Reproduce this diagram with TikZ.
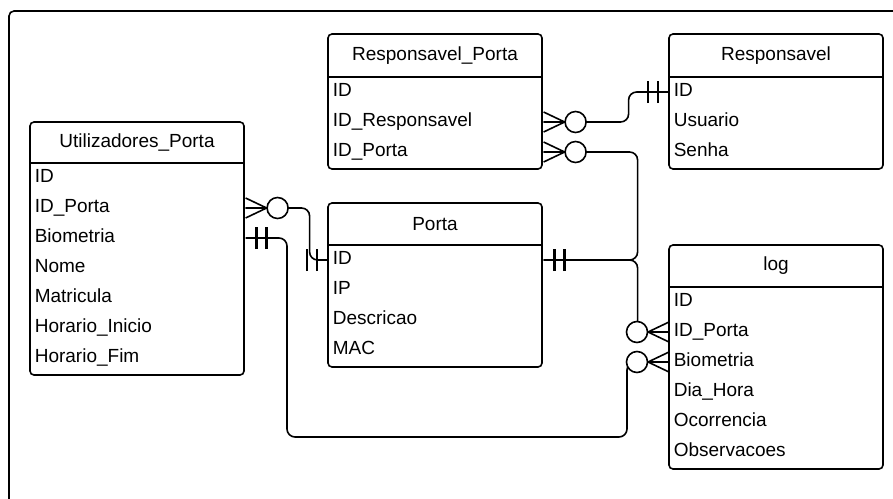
\documentclass[tikz,border=0pt]{standalone}
\usepackage{fontspec}
\setmainfont{Liberation Sans}
\usepackage{tikz}

\tikzset{
  tabela/.style={rounded corners=4pt},
  titulo/.style={inner sep=0pt},
  campo/.style={anchor=west,text width=206pt,align=left,inner xsep=4pt,inner ysep=0pt,
    minimum height=30pt,text height=13pt,text depth=4pt},
  liga/.style={rounded corners=8pt},
  % zero ou muitos: pe de galinha e circulo
  muitos/.pic={
    \draw (0,10) -- (21,0) -- (0,-10) (0,0) -- (21,0);
    \draw[fill=white] (32,0) circle[radius=10.5];
  },
  % um e apenas um: dois tracos
  um/.pic={
    \draw[line width=2.4pt] (11,11) -- (11,-11) (21,11) -- (21,-11);
  }
}

\begin{document}
\begin{tikzpicture}[x=1pt,y=-1pt,line width=1.6pt,font=\fontsize{19}{22}\selectfont]
\useasboundingbox (0,0) rectangle (893,498);
\draw[rounded corners=5pt] (9,11) rectangle (910,520);

% Responsavel_Porta
\draw[tabela] (328,34) rectangle (542,169);
\node[titulo] (respporta) at (435,55.5) {Responsavel\_Porta};
\draw (328,77) -- (542,77);
\foreach \campo [count=\i] in {ID,ID\_Responsavel,ID\_Porta}
  \node[campo] (respporta-\i) at (328,62+30*\i) {\campo};

% Responsavel
\draw[tabela] (669,34) rectangle (883,169);
\node[titulo] (resp) at (776,55.5) {Responsavel};
\draw (669,77) -- (883,77);
\foreach \campo [count=\i] in {ID,Usuario,Senha}
  \node[campo] (resp-\i) at (669,62+30*\i) {\campo};

% Utilizadores_Porta
\draw[tabela] (30,122) rectangle (244,375);
\node[titulo] (util) at (137,142.5) {Utilizadores\_Porta};
\draw (30,163) -- (244,163);
\foreach \campo [count=\i] in {ID,ID\_Porta,Biometria,Nome,Matricula,Horario\_Inicio,Horario\_Fim}
  \node[campo] (util-\i) at (30,148+30*\i) {\campo};

% Porta
\draw[tabela] (328,203) rectangle (542,367);
\node[titulo] (porta) at (435,224) {Porta};
\draw (328,245) -- (542,245);
\foreach \campo [count=\i] in {ID,IP,Descricao,MAC}
  \node[campo] (porta-\i) at (328,230+30*\i) {\campo};

% log
\draw[tabela] (669,245) rectangle (883,469);
\node[titulo] (log) at (776,266) {log};
\draw (669,287) -- (883,287);
\foreach \campo [count=\i] in {ID,ID\_Porta,Biometria,Dia\_Hora,Ocorrencia,Observacoes}
  \node[campo] (log-\i) at (669,272+30*\i) {\campo};

% ligacoes
\coordinate (desvio) at (287,437);
\draw[liga] (respporta-2.east) -- ++(85,0) |- (resp-1.west);
\draw[liga] (porta-1.east) -- ++(94,0) |- (respporta-3.east);
\draw[liga] (porta-1.east) -- ++(94,0) |- (log-2.west);
\draw[liga] (util-2.east) -- ++(64,0) |- (porta-1.west);
\draw[liga] (util-3.east) -| (desvio) -- ++(340,0) |- (log-3.west);

% cardinalidades
\path (respporta-2.east) pic{muitos} (resp-1.west) pic[xscale=-1]{um};
\path (respporta-3.east) pic{muitos} (porta-1.east) pic{um};
\path (log-2.west) pic[xscale=-1]{muitos} (log-3.west) pic[xscale=-1]{muitos};
\path (util-2.east) pic{muitos} (porta-1.west) pic[xscale=-1]{um};
\path (util-3.east) pic{um};
\end{tikzpicture}
\end{document}
